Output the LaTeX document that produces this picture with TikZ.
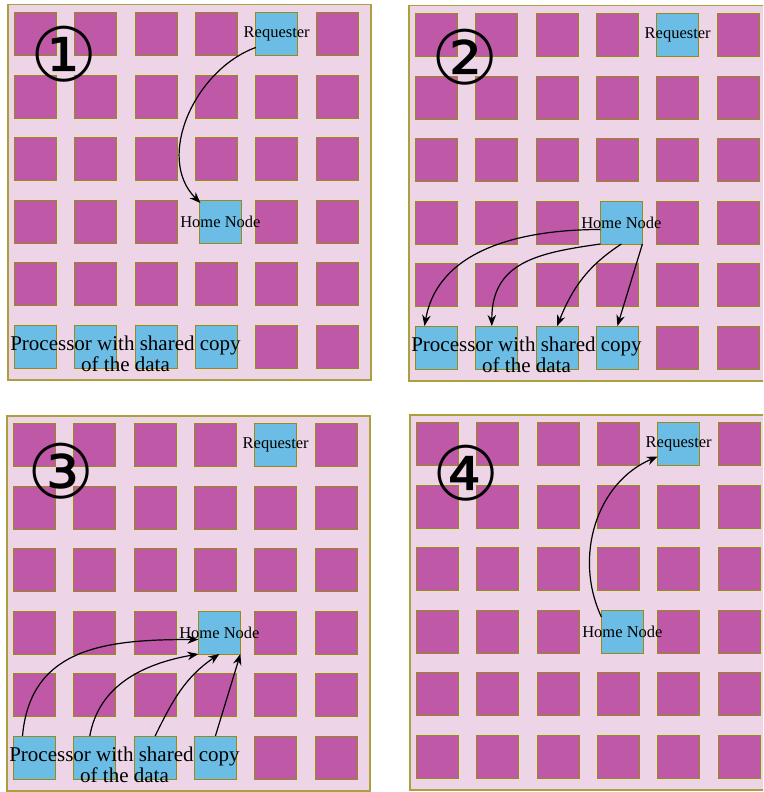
\documentclass[tikz,border=0pt]{standalone}
\usepackage{fontspec}
\setmainfont{Liberation Serif}
\newfontfamily\stepfont{DejaVu Sans}
\usetikzlibrary{arrows.meta, positioning, calc}

\definecolor{panelbg}{RGB}{237,213,231}
\definecolor{panelline}{RGB}{170,160,60}
\definecolor{coreline}{RGB}{150,140,20}
\definecolor{corefill}{RGB}{192,88,168}
\definecolor{nodefill}{RGB}{108,189,230}

\begin{document}
\begin{tikzpicture}[
    x=1pt, y=-1pt,
    >={Stealth[length=11pt,width=8.5pt]},
    % Fondo rosa de cada malla
    panelbox/.style={
        draw=panelline,
        line width=1.5pt,
        fill=panelbg,
        anchor=north west,
        minimum width=363pt,
        minimum height=375pt,
        inner sep=0pt
    },
    % Procesador normal (magenta)
    corebox/.style={
        draw=coreline,
        line width=1pt,
        fill=corefill,
        anchor=north west,
        minimum width=42pt,
        minimum height=43pt,
        inner sep=0pt,
        outer sep=0pt
    },
    % Procesador destacado (azul)
    nodebox/.style={
        corebox,
        fill=nodefill
    },
    % Etiqueta encima del procesador azul
    tag/.style={
        inner sep=0pt,
        font=\fontsize{16.5pt}{18pt}\selectfont
    },
    % Texto de los procesadores con copia compartida
    notetext/.style={
        align=center,
        inner sep=0pt,
        font=\fontsize{21pt}{21pt}\selectfont
    },
    % Numero del paso
    stepnum/.style={
        inner sep=0pt,
        font=\stepfont\fontsize{75pt}{75pt}\selectfont
    },
    msg/.style={->, line width=1.2pt}
]
    \useasboundingbox (0,0) rectangle (763,792);
    \clip (0,0) rectangle (763,792);

    % ==========================================
    % PASO 1 (ARRIBA IZQUIERDA)
    % ==========================================
    \begin{scope}[shift={(7,4)}]
        \node[panelbox] (panel1) at (0,0) {};
        \foreach \c in {0,...,5}{
            \foreach \r in {0,...,5}{
                \ifnum\c\r=33 \else
                    \node[corebox] (a-\c-\r) at ({7.5+60.3*\c},{8.5+62.5*\r}) {};
                \fi
            }
        }
        \node[nodebox, label={[tag]center:Requester}] (req1) at (a-4-0.north west) {};
        \node[nodebox, label={[tag]center:Home Node}] (home1) at (192.4,196) {};
        \foreach \c in {0,...,3}
            \node[nodebox] (s1-\c) at (a-\c-5.north west) {};
        \node[notetext] (note1) at (118.5,349.5) {Processor with shared copy\\of the data};
        \node[stepnum] (n1) at (57,50.5) {①};

        % Peticion al nodo home
        \draw[msg] ([yshift=8pt]req1.south west) to[out=200, in=135] ([xshift=1pt,yshift=-3pt]home1.north west);
    \end{scope}

    % ==========================================
    % PASO 2 (ARRIBA DERECHA)
    % ==========================================
    \begin{scope}[shift={(408,5)}]
        \node[panelbox] (panel2) at (0,0) {};
        \foreach \c in {0,...,5}{
            \foreach \r in {0,...,5}{
                \ifnum\c\r=33 \else
                    \node[corebox] (b-\c-\r) at ({7.5+60.3*\c},{8.5+62.5*\r}) {};
                \fi
            }
        }
        \node[nodebox, label={[tag]center:Requester}] (req2) at (b-4-0.north west) {};
        \node[nodebox, label={[tag]center:Home Node}] (home2) at (192.4,196) {};
        \foreach \c in {0,...,3}
            \node[nodebox] (s2-\c) at (b-\c-5.north west) {};
        \node[notetext] (note2) at (118.5,349.5) {Processor with shared copy\\of the data};
        \node[stepnum] (n2) at (57,52) {②};

        % Invalidaciones a las copias
        \draw[msg] ([yshift=-7pt]home2.west) to[out=180, in=80] ([xshift=9pt]s2-0.north west);
        \draw[msg] (home2.south west) to[out=188, in=90, looseness=1.2] ([xshift=16pt]s2-1.north west);
        \draw[msg] (home2.south) to[out=213, in=68] (s2-2.north);
        \draw[msg] (home2.south east) -- (s2-3.north);
    \end{scope}

    % ==========================================
    % PASO 3 (ABAJO IZQUIERDA)
    % ==========================================
    \begin{scope}[shift={(6,415)}]
        \node[panelbox] (panel3) at (0,0) {};
        \foreach \c in {0,...,5}{
            \foreach \r in {0,...,5}{
                \ifnum\c\r=33 \else
                    \node[corebox] (c-\c-\r) at ({7.5+60.3*\c},{8.5+62.5*\r}) {};
                \fi
            }
        }
        \node[nodebox, label={[tag]center:Requester}] (req3) at (c-4-0.north west) {};
        \node[nodebox, label={[tag]center:Home Node}] (home3) at (192.4,196) {};
        \foreach \c in {0,...,3}
            \node[nodebox] (s3-\c) at (c-\c-5.north west) {};
        \node[notetext] (note3) at (118.5,349.5) {Processor with shared copy\\of the data};
        \node[stepnum] (n3) at (55,56) {③};

        % Confirmaciones al nodo home
        \draw[msg] ([xshift=9pt]s3-0.north west) to[out=85, in=180, looseness=1.15] ([yshift=-7pt]home3.west);
        \draw[msg] ([xshift=16pt]s3-1.north west) to[out=80, in=190] (home3.south west);
        \draw[msg] (s3-2.north) to[out=64, in=214] (home3.south);
        \draw[msg] (s3-3.north) -- (home3.south east);
    \end{scope}

    % ==========================================
    % PASO 4 (ABAJO DERECHA)
    % ==========================================
    \begin{scope}[shift={(409,414)}]
        \node[panelbox] (panel4) at (0,0) {};
        \foreach \c in {0,...,5}{
            \foreach \r in {0,...,5}{
                \ifnum\c\r=33 \else
                    \node[corebox] (d-\c-\r) at ({7.5+60.3*\c},{8.5+62.5*\r}) {};
                \fi
            }
        }
        \node[nodebox, label={[tag]center:Requester}] (req4) at (d-4-0.north west) {};
        \node[nodebox, label={[tag]center:Home Node}] (home4) at (192.4,196) {};
        \node[stepnum] (n4) at (57,59) {④};

        % Respuesta al solicitante
        \draw[msg] ([yshift=-7pt]home4.north west) to[out=115, in=203] ([yshift=9pt]req4.south west);
    \end{scope}

\end{tikzpicture}
\end{document}
